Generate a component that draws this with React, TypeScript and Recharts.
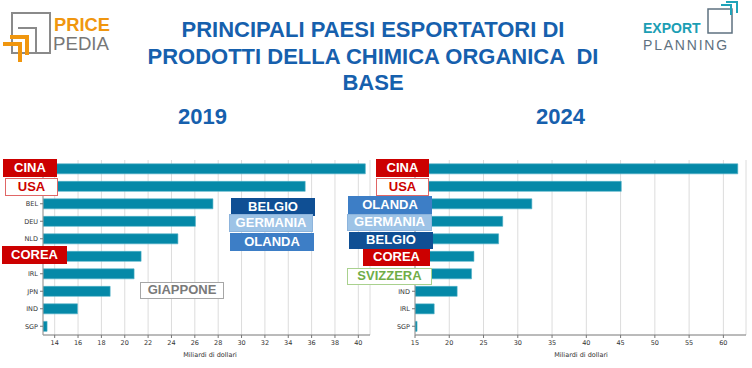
import React from "react";
import { Bar, BarChart, CartesianGrid, XAxis, YAxis } from "recharts";

// export values, billions of dollars
const codes2019 = ["CHN", "USA", "BEL", "DEU", "NLD", "KOR", "IRL", "JPN", "IND", "SGP"];
const values2019 = [40.6, 35.45, 27.55, 26.05, 24.55, 21.4, 20.8, 18.75, 15.95, 13.35];
const ticks2019 = [14, 16, 18, 20, 22, 24, 26, 28, 30, 32, 34, 36, 38, 40];

const codes2024 = ["CHN", "USA", "NLD", "DEU", "BEL", "KOR", "CHE", "IND", "IRL", "SGP"];
const values2024 = [62.1, 45.1, 32.05, 27.8, 27.2, 23.6, 23.25, 21.15, 17.8, 15.3];
const ticks2024 = [15, 20, 25, 30, 35, 40, 45, 50, 55, 60];

// axis codes that sit under a name tag in the picture
const covered2019 = ["CHN", "USA", "KOR"];
const covered2024 = ["CHN", "USA", "NLD", "DEU", "BEL", "KOR", "CHE"];

const BAR = "#0589a8";
const TITLE_BLUE = "#1660ad";
const RED = "#cc0000";

const toRows = (codes: string[], values: number[]) =>
  codes.map((code, i) => ({ code, value: values[i] }));

type Tag = {
  text: string;
  x: number;
  y: number;
  w: number;
  h: number;
  bg: string;
  color: string;
  border: string;
};

// coloured name tags laid over the charts
const tags: Tag[] = [
  { text: "CINA", x: 3, y: 159, w: 54, h: 18, bg: RED, color: "#fff", border: RED },
  { text: "USA", x: 5, y: 178, w: 53, h: 18, bg: "#fff", color: RED, border: "#e06666" },
  { text: "COREA", x: 2, y: 246, w: 65, h: 18, bg: RED, color: "#fff", border: RED },
  { text: "BELGIO", x: 231, y: 198, w: 84, h: 18, bg: "#0f4f94", color: "#fff", border: "#0f4f94" },
  { text: "GERMANIA", x: 229, y: 214, w: 84, h: 18, bg: "#9dc3e6", color: "#fff", border: "#8db4dc" },
  { text: "OLANDA", x: 230, y: 233, w: 84, h: 18, bg: "#3d7ec6", color: "#fff", border: "#3d7ec6" },
  { text: "GIAPPONE", x: 140, y: 282, w: 84, h: 17, bg: "#fff", color: "#7a7a7a", border: "#a6a6a6" },
  { text: "CINA", x: 376, y: 159, w: 53, h: 18, bg: RED, color: "#fff", border: RED },
  { text: "USA", x: 376, y: 178, w: 53, h: 18, bg: "#fff", color: RED, border: "#e06666" },
  { text: "OLANDA", x: 348, y: 196, w: 84, h: 18, bg: "#3d7ec6", color: "#fff", border: "#3d7ec6" },
  { text: "GERMANIA", x: 347, y: 214, w: 85, h: 17, bg: "#9dc3e6", color: "#fff", border: "#8db4dc" },
  { text: "BELGIO", x: 349, y: 232, w: 84, h: 17, bg: "#0f4f94", color: "#fff", border: "#0f4f94" },
  { text: "COREA", x: 363, y: 249, w: 67, h: 17, bg: RED, color: "#fff", border: RED },
  { text: "SVIZZERA", x: 347, y: 268, w: 85, h: 17, bg: "#fff", color: "#70ad47", border: "#a9d18e" },
];

const tickStyle = { fontSize: 6.5, fill: "#333", fontFamily: "DejaVu Sans" };

function Panel({
  rows,
  ticks,
  domain,
  yWidth,
  covered,
}: {
  rows: { code: string; value: number }[];
  ticks: number[];
  domain: [number, number];
  yWidth: number;
  covered: string[];
}) {
  const renderTick = (props: any) => {
    const { x, y, payload } = props;
    if (covered.includes(payload.value)) return <g />;
    return (
      <text x={x} y={y} dy={2.3} textAnchor="end" {...tickStyle}>
        {payload.value}
      </text>
    );
  };
  return (
    <BarChart
      width={376}
      height={218}
      data={rows}
      layout="vertical"
      barCategoryGap="22%"
      margin={{ top: 10, right: 6, left: 0, bottom: 13 }}
    >
      <CartesianGrid horizontal={false} stroke="#dcdcdc" />
      <XAxis
        type="number"
        domain={domain}
        ticks={ticks}
        allowDataOverflow
        tick={tickStyle}
        tickSize={3}
        height={20}
        axisLine={{ stroke: "#777" }}
        tickLine={{ stroke: "#777" }}
      />
      <YAxis
        type="category"
        dataKey="code"
        width={yWidth}
        interval={0}
        tick={renderTick}
        tickSize={3}
        axisLine={{ stroke: "#999" }}
        tickLine={{ stroke: "#777" }}
      />
      <Bar dataKey="value" fill={BAR} stroke="#4fb0c6" strokeWidth={0.6} isAnimationActive={false} />
    </BarChart>
  );
}

const txt = (extra: React.CSSProperties): React.CSSProperties => ({
  position: "absolute",
  fontFamily: "'Liberation Sans', Arial, sans-serif",
  ...extra,
});

export default function App() {
  return (
    <div
      style={{
        position: "absolute",
        left: 0,
        top: 0,
        width: 752,
        height: 368,
        background: "#fff",
        overflow: "hidden",
      }}
    >
      {/* Pricepedia logo */}
      <svg style={{ position: "absolute", left: 0, top: 0 }} width={130} height={70}>
        <rect x={12} y={13} width={38} height={40} fill="none" stroke="#8a8a8a" strokeWidth={2} />
        <path d="M18 28 H36 V52" fill="none" stroke="#8a8a8a" strokeWidth={2} />
        <path d="M3 44 H20 V62" fill="none" stroke="#f0960e" strokeWidth={4} />
        <path d="M10 37 H27 V55" fill="none" stroke="#f0960e" strokeWidth={4} />
        <text x={54} y={30.5} fontSize={19} fontWeight={700} fill="#f0960e" textLength={56} lengthAdjust="spacingAndGlyphs" fontFamily="'Liberation Sans', sans-serif">
          PRICE
        </text>
        <text x={53} y={49.5} fontSize={19} fill="#777" textLength={56} lengthAdjust="spacingAndGlyphs" fontFamily="'Liberation Sans', sans-serif">
          PEDIA
        </text>
      </svg>

      {/* Export Planning logo */}
      <svg style={{ position: "absolute", left: 620, top: 0 }} width={132} height={70}>
        <rect x={88} y={9} width={24} height={24} fill="none" stroke="#5e7180" strokeWidth={1.5} />
        <path d="M101 5 H111 V15" fill="none" stroke="#1fa3b8" strokeWidth={2} />
        <path d="M106 2 H117 V13" fill="none" stroke="#1fa3b8" strokeWidth={2} />
        <text x={23} y={33} fontSize={14} fontWeight={700} fill="#1b9eb4" fontFamily="'Liberation Sans', sans-serif">
          EXPORT
        </text>
        <text x={23} y={50} fontSize={14} fill="#5e7180" letterSpacing={1.8} fontFamily="'Liberation Sans', sans-serif">
          PLANNING
        </text>
      </svg>

      <div
        style={txt({
          left: 120,
          top: 17,
          width: 506,
          textAlign: "center",
          fontSize: 22,
          lineHeight: "26.7px",
          fontWeight: 700,
          color: TITLE_BLUE,
          whiteSpace: "pre-wrap",
        })}
      >
        {"PRINCIPALI PAESI ESPORTATORI DI\nPRODOTTI DELLA CHIMICA ORGANICA  DI\nBASE"}
      </div>

      <div style={txt({ left: 178, top: 104, fontSize: 22, fontWeight: 700, color: TITLE_BLUE })}>2019</div>
      <div style={txt({ left: 536, top: 104, fontSize: 22, fontWeight: 700, color: TITLE_BLUE })}>2024</div>

      <div style={{ position: "absolute", left: 0, top: 150 }}>
        <Panel rows={toRows(codes2019, values2019)} ticks={ticks2019} domain={[13, 41]} yWidth={43} covered={covered2019} />
      </div>
      <div style={{ position: "absolute", left: 376, top: 150 }}>
        <Panel rows={toRows(codes2024, values2024)} ticks={ticks2024} domain={[15, 63.3]} yWidth={39} covered={covered2024} />
      </div>

      <div style={txt({ left: 110, top: 351, width: 200, textAlign: "center", fontSize: 6.5, color: "#333", fontFamily: "DejaVu Sans" })}>
        Miliardi di dollari
      </div>
      <div style={txt({ left: 481, top: 351, width: 200, textAlign: "center", fontSize: 6.5, color: "#333", fontFamily: "DejaVu Sans" })}>
        Miliardi di dollari
      </div>

      {tags.map((t, i) => (
        <div
          key={i}
          style={txt({
            left: t.x,
            top: t.y,
            width: t.w,
            height: t.h,
            boxSizing: "border-box",
            background: t.bg,
            color: t.color,
            border: `1.5px solid ${t.border}`,
            fontSize: 13,
            fontWeight: 700,
            lineHeight: `${t.h - 3}px`,
            textAlign: "center",
            whiteSpace: "nowrap",
            overflow: "hidden",
          })}
        >
          {t.text}
        </div>
      ))}
    </div>
  );
}
